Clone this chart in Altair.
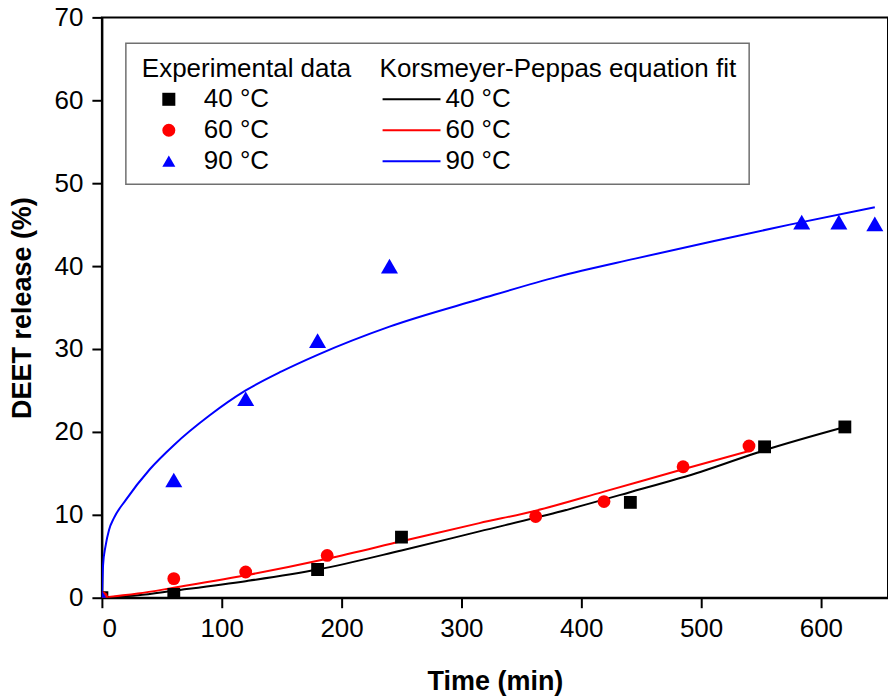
import altair as alt
import pandas as pd

temps = ["40 °C", "60 °C", "90 °C"]
colors = ["#000000", "#ff0000", "#0000ff"]
shapes = ["square", "circle", "triangle-up"]

# Experimental data
t40 = [0, 60, 180, 250, 441, 553, 620]
v40 = [0, 0.4, 3.4, 7.3, 11.5, 18.2, 20.6]
t60 = [0, 60, 120, 188, 362, 419, 485, 540]
v60 = [0, 2.3, 3.1, 5.1, 9.8, 11.6, 15.8, 18.3]
t90 = [0, 60, 120, 180, 240, 584, 615, 645]
v90 = [0, 14.2, 24.0, 31.0, 40.0, 45.3, 45.3, 45.1]

# Korsmeyer-Peppas fit curves
ft40 = [0, 30, 60, 120, 180, 250, 315, 380, 440, 500, 553, 620]
fv40 = [0, 0.3, 0.85, 2.0, 3.4, 5.7, 8.0, 10.3, 12.7, 15.2, 17.8, 20.6]
ft60 = [0, 30, 60, 120, 188, 250, 315, 362, 419, 485, 540]
fv60 = [0, 0.5, 1.2, 2.7, 4.7, 6.8, 9.0, 10.5, 12.8, 15.5, 17.7]
ft90 = [0, 1, 3, 6, 10, 20, 40, 60, 90, 120, 150, 180, 240, 315, 380, 445, 510, 574, 645]
fv90 = [0, 4.0, 6.2, 8.2, 9.6, 11.8, 15.5, 18.4, 22.0, 25.0, 27.3, 29.3, 32.7, 36.0, 38.7, 40.9, 43.0, 45.0, 47.1]

x_ticks = [0, 100, 200, 300, 400, 500, 600]
y_ticks = [0, 10, 20, 30, 40, 50, 60, 70]

exp_rows = []
for tt, ts, vs in zip(temps, [t40, t60, t90], [v40, v60, v90]):
    exp_rows += [{"t": a, "v": b, "temp": tt} for a, b in zip(ts, vs)]
exp_df = pd.DataFrame(exp_rows)

fit_rows = []
for tt, ts, vs in zip(temps, [ft40, ft60, ft90], [fv40, fv60, fv90]):
    fit_rows += [{"t": a, "v": b, "fit": tt, "i": k} for k, (a, b) in enumerate(zip(ts, vs))]
fit_df = pd.DataFrame(fit_rows)

FONT = "Liberation Sans"

xscale = alt.Scale(domain=[0, 656], nice=False, zero=False)
yscale = alt.Scale(domain=[0, 70], nice=False)

xenc = alt.X("t:Q", scale=xscale, axis=alt.Axis(values=x_ticks, title="Time (min)", format="d"))
yenc = alt.Y("v:Q", scale=yscale, axis=alt.Axis(values=y_ticks, title="DEET release (%)", format="d"))

box = alt.Chart(pd.DataFrame({"a": [0]})).mark_rect(
    fill="white", fillOpacity=0, stroke="#707070", strokeWidth=1.5
).encode(
    x=alt.value(24), x2=alt.value(648), y=alt.value(26), y2=alt.value(167)
)

lines = alt.Chart(fit_df).mark_line(strokeWidth=2, clip=True, interpolate="monotone").encode(
    x=xenc,
    y=yenc,
    order="i:Q",
    stroke=alt.Stroke(
        "fit:N",
        sort="ascending",
        scale=alt.Scale(range=colors),
        legend=alt.Legend(
            title="Korsmeyer-Peppas equation fit",
            orient="none", legendX=278, legendY=39,
            symbolType="stroke", symbolSize=3364, symbolStrokeWidth=2,
            symbolOffset=2, labelOffset=4, clipHeight=26,
        ),
    ),
)

exp_legend = alt.Legend(
    title="Experimental data",
    orient="none", legendX=40, legendY=39,
    symbolSize=170, symbolStrokeWidth=0, symbolOffset=14, labelOffset=22,
)

fill_enc = alt.Fill("temp:N", scale=alt.Scale(domain=temps, range=colors), legend=exp_legend)
shape_enc = alt.Shape("temp:N", scale=alt.Scale(domain=temps, range=shapes), legend=exp_legend)

points_a = alt.Chart(exp_df).transform_filter(
    alt.datum.temp != temps[2]
).mark_point(filled=True, strokeWidth=0, opacity=1, clip=True, size=165).encode(
    x=xenc, y=yenc, fill=fill_enc, shape=shape_enc,
)

points_b = alt.Chart(exp_df).transform_filter(
    alt.datum.temp == temps[2]
).mark_point(filled=True, strokeWidth=0, opacity=1, clip=True, size=290).encode(
    x=xenc, y=yenc, fill=fill_enc, shape=shape_enc,
)

chart = alt.layer(box, lines, points_a, points_b).resolve_legend(
    stroke="independent"
).properties(
    width=787,
    height=581,
    autosize=alt.AutoSizeParams(type="none"),
    padding={"left": 94, "top": 9, "right": 0, "bottom": 100},
).configure_view(
    stroke="#000000", strokeWidth=2
).configure_axis(
    grid=False,
    domainColor="#000000", domainWidth=2,
    tickColor="#000000", tickWidth=2, tickSize=10,
    labelFont=FONT, labelFontSize=26, labelColor="#000000",
    titleFont=FONT, titleFontSize=27, titleFontWeight="bold", titleColor="#000000",
).configure_axisX(
    labelPadding=8, titlePadding=27,
).configure_axisY(
    labelPadding=9, titlePadding=18,
).configure_legend(
    padding=0,
    titleFont=FONT, titleFontSize=26, titleFontWeight="normal", titleColor="#000000",
    titlePadding=4, titleAnchor="start", titleLimit=600,
    labelFont=FONT, labelFontSize=26, labelColor="#000000", labelLimit=300,
    rowPadding=5,
)

chart.save("out.html", embed_options={"renderer": "svg", "actions": False})
